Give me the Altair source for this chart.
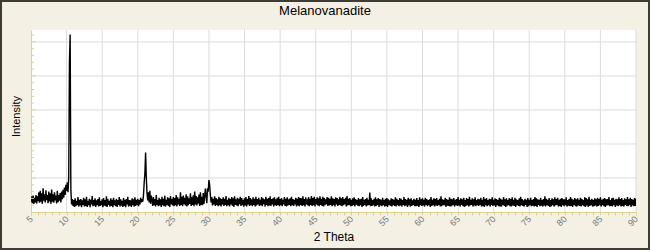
import altair as alt
import pandas as pd

# ---- data ----
chart_title = "Melanovanadite"
theta_start = 5.0
theta_step = 0.1
# intensity in arbitrary units (grid line every 100), one row per degree 2-theta
intensity = [
    30,45,26,48,24,42,28,50,25,46,   # 5
    32,58,27,62,30,55,24,70,33,52,   # 6
    28,64,35,50,26,60,31,55,24,66,   # 7
    30,52,27,58,34,48,25,62,29,50,   # 8
    33,56,28,60,38,65,42,72,50,80,   # 9
    62,87,58,102,439,522,67,22,38,18,  # 10
    35,15,40,17,33,20,44,16,36,19,   # 11
    38,14,34,21,42,16,37,18,45,15,   # 12
    33,20,39,14,36,22,47,17,35,19,   # 13
    40,15,34,21,38,16,43,18,32,20,   # 14
    37,14,41,19,35,17,46,15,38,21,   # 15
    33,16,40,18,36,14,42,20,34,17,   # 16
    39,15,35,21,44,16,37,19,33,15,   # 17
    41,18,36,14,38,22,45,16,35,19,   # 18
    34,15,40,20,37,16,43,18,36,21,   # 19
    39,17,35,22,42,28,38,30,48,86,   # 20
    112,175,101,55,34,58,28,62,24,48,  # 21
    36,18,44,20,38,16,50,21,35,17,   # 22
    42,19,37,15,45,20,39,17,48,16,   # 23
    36,21,43,18,40,15,47,22,38,19,   # 24
    44,17,41,20,50,16,43,22,39,18,   # 25
    58,21,45,17,48,23,42,19,52,16,   # 26
    46,20,40,24,55,18,44,21,49,17,   # 27
    60,22,47,19,43,25,51,18,58,21,   # 28
    45,20,56,24,48,69,44,26,70,60,   # 29
    94,80,50,28,44,19,39,22,46,18,   # 30
    41,21,37,17,45,20,40,16,38,22,   # 31
    43,18,39,21,47,17,36,20,42,16,   # 32
    38,22,44,18,40,15,46,21,37,19,   # 33
    42,17,39,23,45,18,41,20,36,16,   # 34
    40,19,44,16,38,22,47,18,41,20,   # 35
    37,17,43,21,39,16,45,19,38,22,   # 36
    42,18,36,20,44,17,40,23,37,16,   # 37
    45,21,39,17,41,19,46,18,38,22,   # 38
    40,16,43,20,37,18,42,21,45,17,   # 39
    38,20,41,17,36,22,44,18,39,16,   # 40
    43,19,37,21,40,17,45,20,38,18,   # 41
    36,22,42,16,39,19,44,17,41,21,   # 42
    40,18,46,20,38,16,43,22,37,19,   # 43
    44,17,39,21,47,18,41,20,45,16,   # 44
    38,22,43,19,40,17,46,21,39,18,   # 45
    45,16,41,20,37,23,44,18,42,19,   # 46
    39,21,46,17,40,20,38,16,43,22,   # 47
    41,18,37,21,45,19,40,17,44,20,   # 48
    38,22,42,16,47,19,39,21,41,17,   # 49
    36,18,40,20,43,16,38,22,35,19,   # 50
    41,17,37,20,39,15,44,18,36,21,   # 51
    38,16,42,19,36,21,57,17,40,18,   # 52
    35,20,39,16,43,18,37,21,41,15,   # 53
    38,19,36,17,42,20,35,16,39,18,   # 54
    41,15,37,21,34,18,40,16,38,20,   # 55
    36,18,43,16,39,20,35,17,41,19,   # 56
    39,16,35,21,44,17,38,19,36,15,   # 57
    42,20,37,16,40,18,34,21,39,17,   # 58
    36,17,41,19,35,15,43,20,37,18,   # 59
    40,19,36,16,42,21,38,17,35,20,   # 60
    37,15,44,18,36,20,40,16,38,19,   # 61
    41,18,35,21,39,16,46,17,37,20,   # 62
    36,20,42,15,38,19,35,18,43,16,   # 63
    39,17,37,21,41,16,36,20,38,18,   # 64
    44,19,36,16,40,21,37,17,42,15,   # 65
    35,18,41,20,38,16,45,19,36,21,   # 66
    40,16,37,19,43,17,35,20,39,18,   # 67
    37,21,42,16,36,18,44,15,38,20,   # 68
    41,17,35,20,39,16,37,21,43,18,   # 69
    36,19,40,15,38,20,35,17,42,16,   # 70
    39,16,36,21,44,18,37,15,40,19,   # 71
    35,20,41,17,38,16,43,19,36,18,   # 72
    42,15,37,20,35,18,40,16,45,20,   # 73
    38,18,34,16,39,21,36,15,41,17,   # 74
    36,20,42,17,35,19,38,16,44,18,   # 75
    40,15,37,21,36,17,42,19,35,16,   # 76
    38,19,46,16,39,20,36,18,41,15,   # 77
    35,17,40,20,37,16,43,19,38,21,   # 78
    42,16,36,18,39,15,41,20,37,17,   # 79
    37,20,43,16,35,19,38,17,44,18,   # 80
    39,15,36,21,41,17,37,16,40,19,   # 81
    36,18,42,16,38,20,35,17,43,15,   # 82
    41,19,37,15,45,18,36,20,39,16,   # 83
    35,17,40,19,37,16,42,18,38,20,   # 84
    43,16,36,20,39,17,41,15,37,19,   # 85
    38,20,44,17,35,18,40,16,42,21,   # 86
    36,15,39,19,37,17,43,20,38,16,   # 87
    41,18,35,16,40,21,37,18,44,17,   # 88
    37,20,42,15,38,19,36,17,41,18,   # 89
    39,                              # 90
]
two_theta = [round(theta_start + i * theta_step, 1) for i in range(len(intensity))]

x_domain = [5, 90]
y_domain = [0, 535]
x_tick_values = list(range(5, 91))
x_grid_values = list(range(10, 91, 5))
y_grid_values = [100, 200, 300, 400, 500]
y_minor_values = list(range(20, 535, 20))

pattern = pd.DataFrame({"theta": two_theta, "intensity": intensity})
xgrid = pd.DataFrame({"theta": x_grid_values})
ygrid = pd.DataFrame({"intensity": y_grid_values})
yminor = pd.DataFrame({"intensity": [v for v in y_minor_values if v % 100 != 0]})
ymajor = pd.DataFrame({"intensity": y_grid_values})

AXIS_COL = "#DCD28E"
GRID_COL = "#DCDCDC"
FONT = "Liberation Sans"

xscale = alt.Scale(domain=x_domain, nice=False, zero=False)
yscale = alt.Scale(domain=y_domain, nice=False, zero=False)

x_axis = alt.Axis(
    title="2 Theta",
    values=x_tick_values,
    labelExpr="datum.value % 5 == 0 ? datum.label : ''",
    labelAngle=315,
    labelAlign="right",
    labelBaseline="middle",
    labelFontSize=9,
    labelColor="#777777",
    labelFont=FONT,
    labelPadding=2,
    labelOverlap=False,
    labelFlush=False,
    tickSize=3,
    tickColor=AXIS_COL,
    domainColor=AXIS_COL,
    grid=False,
    titleFont=FONT,
    titleFontSize=12,
    titleFontWeight="normal",
    titleColor="black",
    titlePadding=4,
)
y_axis = alt.Axis(
    title="Intensity",
    labels=False,
    ticks=False,
    grid=False,
    domainColor=AXIS_COL,
    titleFont=FONT,
    titleFontSize=11,
    titleFontWeight="normal",
    titleColor="black",
    titlePadding=10,
    titleY=86,
)

X = alt.X("theta:Q", scale=xscale, axis=x_axis)
Y = alt.Y("intensity:Q", scale=yscale, axis=y_axis)

vgrid = alt.Chart(xgrid).mark_rule(color=GRID_COL, strokeWidth=1).encode(x=X)
hgrid = alt.Chart(ygrid).mark_rule(color=GRID_COL, strokeWidth=1).encode(y=Y)

line = alt.Chart(pattern).mark_line(color="black", strokeWidth=1.4, clip=True).encode(
    x=X, y=Y
)

minor_ticks = alt.Chart(yminor).mark_rule(color=AXIS_COL, strokeWidth=1).encode(
    y=Y, x=alt.value(0), x2=alt.value(3)
)
major_ticks = alt.Chart(ymajor).mark_rule(color=AXIS_COL, strokeWidth=1).encode(
    y=Y, x=alt.value(0), x2=alt.value(5)
)

title_df = pd.DataFrame({"label": [chart_title]})
title_mark = alt.Chart(title_df).mark_text(
    font=FONT, fontSize=13, color="black", align="center", baseline="alphabetic"
).encode(text="label:N", x=alt.value(294), y=alt.value(-15))

frame_df = pd.DataFrame({"k": [0]})
frame = alt.Chart(frame_df).mark_rect(
    fill=None, stroke="#3f3c35", strokeWidth=2, clip=False
).encode(
    x=alt.value(-30),
    x2=alt.value(618),
    y=alt.value(-29),
    y2=alt.value(219),
)

chart = (
    alt.layer(vgrid, hgrid, line, minor_ticks, major_ticks, title_mark, frame)
    .properties(
        width=605,
        height=182,
        autosize=alt.AutoSizeParams(type="none"),
        padding={"left": 31, "top": 30, "right": 14, "bottom": 38},
        background="#F4F1E4",
    )
    .configure_view(fill="white", stroke=None)
)

chart.save("out.html", embed_options={"renderer": "svg", "actions": False})
